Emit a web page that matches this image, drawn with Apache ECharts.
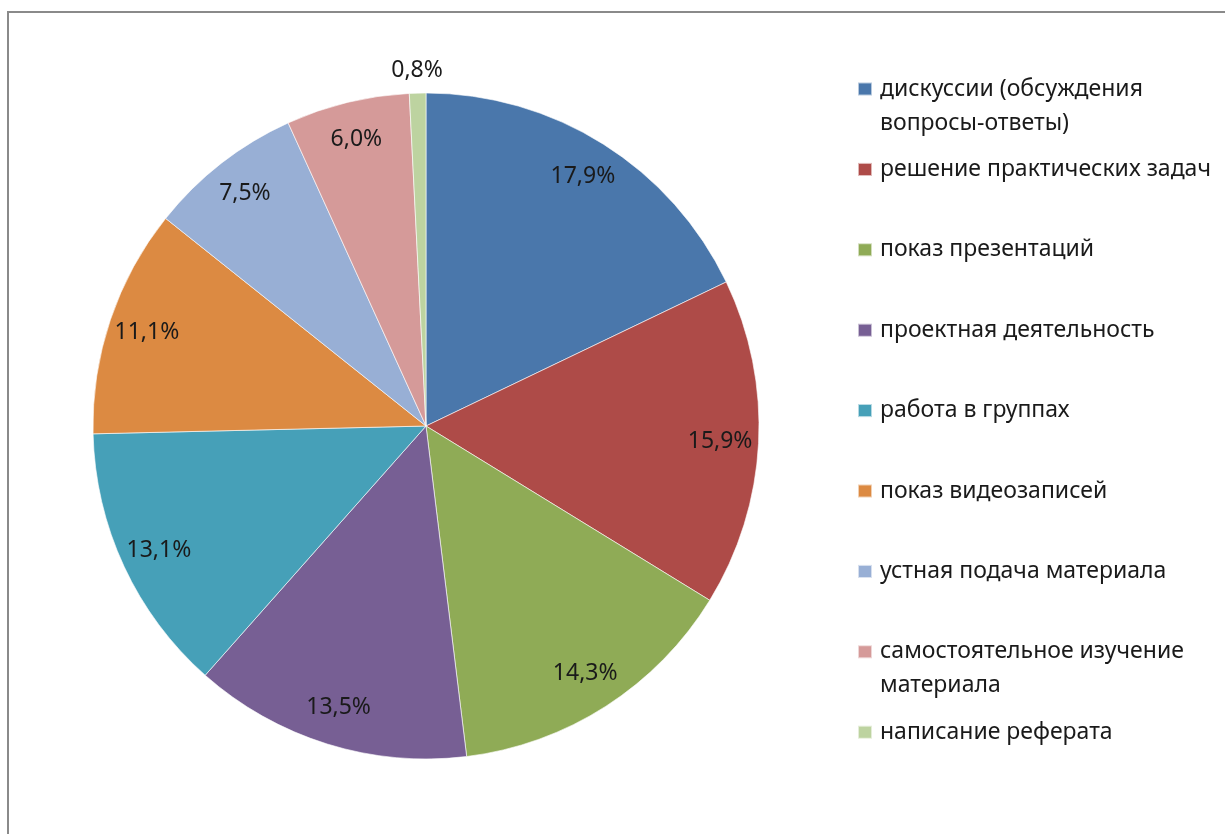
<!DOCTYPE html>
<html>
<head>
<meta charset="utf-8">
<script src="https://cdn.jsdelivr.net/npm/echarts@6/dist/echarts.min.js"></script>
<style>
html,body{margin:0;padding:0;background:#fff;}
#chart{width:1225px;height:834px;}
</style>
</head>
<body>
<div id="chart"></div>
<script>
const categories = [
  'дискуссии (обсуждения вопросы-ответы)',
  'решение практических задач',
  'показ презентаций',
  'проектная деятельность',
  'работа в группах',
  'показ видеозаписей',
  'устная подача материала',
  'самостоятельное изучение материала',
  'написание реферата'
];
const values = [17.9, 15.9, 14.3, 13.5, 13.1, 11.1, 7.5, 6.0, 0.8];
const colors = ['#4A77AB', '#AE4B48', '#8FAB56', '#775F94', '#46A0B8', '#DC8A42', '#98AFD5', '#D59A99', '#BDD3A0'];
const legendLines = {
  'дискуссии (обсуждения вопросы-ответы)': ['дискуссии (обсуждения', 'вопросы-ответы)'],
  'самостоятельное изучение материала': ['самостоятельное изучение', 'материала']
};

const FONT = 'Noto Sans';
const fmt = v => v.toFixed(1).replace('.', ',') + '%';
const pieData = categories.map((n, i) => ({ name: n, value: values[i], itemStyle: { color: colors[i] } }));

const legendTop0 = 89, legendStep = 80.4, lh = 34;
const legends = categories.map((n, i) => {
  const two = !!legendLines[n];
  const cy = legendTop0 + legendStep * i;
  return {
    orient: 'vertical',
    left: 857,
    top: two ? cy - lh * 1.5 : cy - lh / 2,
    padding: 0,
    itemWidth: 14,
    itemHeight: 13,
    icon: 'rect',
    selectedMode: false,
    data: [{ name: n, itemStyle: { color: colors[i] } }],
    formatter: name => legendLines[name] ? '\n' + legendLines[name].join('\n') : name,
    textStyle: { fontFamily: FONT, fontSize: 23, color: '#1a1a1a', lineHeight: lh, padding: [0, 0, 0, 3] }
  };
});

const chart = echarts.init(document.getElementById('chart'));
chart.setOption({
  animation: false,
  backgroundColor: '#fff',
  graphic: [{
    type: 'rect', silent: true,
    shape: { x: 8, y: 12, width: 1400, height: 1000 },
    style: { fill: 'none', stroke: '#8a8a8a', lineWidth: 2 }
  }],
  legend: legends,
  series: [
    {
      type: 'pie', center: [426, 426], radius: [0, 333], startAngle: 90, clockwise: true,
      avoidLabelOverlap: false, silent: true,
      label: { show: false }, labelLine: { show: false },
      itemStyle: { borderColor: 'rgba(255,255,255,0.6)', borderWidth: 1 },
      data: pieData
    },
    {
      type: 'pie', center: [426, 426], radius: [250, 333], startAngle: 90, clockwise: true,
      avoidLabelOverlap: false, silent: true,
      itemStyle: { color: 'rgba(0,0,0,0)' },
      label: { show: true, position: 'inside', formatter: p => fmt(p.value), fontFamily: FONT, fontSize: 23, color: '#1a1a1a' },
      labelLine: { show: false },
      data: categories.map((n, i) => ({ name: n, value: values[i], label: { show: i < categories.length - 1 } }))
    },
    {
      type: 'pie', center: [426, 426], radius: [333, 373], startAngle: 90, clockwise: true,
      avoidLabelOverlap: false, silent: true,
      itemStyle: { color: 'rgba(0,0,0,0)' },
      label: { show: true, position: 'inside', formatter: p => fmt(p.value), fontFamily: FONT, fontSize: 23, color: '#1a1a1a' },
      labelLine: { show: false },
      data: categories.map((n, i) => ({ name: n, value: values[i], label: { show: i === categories.length - 1 } }))
    }
  ]
});
</script>
</body>
</html>
